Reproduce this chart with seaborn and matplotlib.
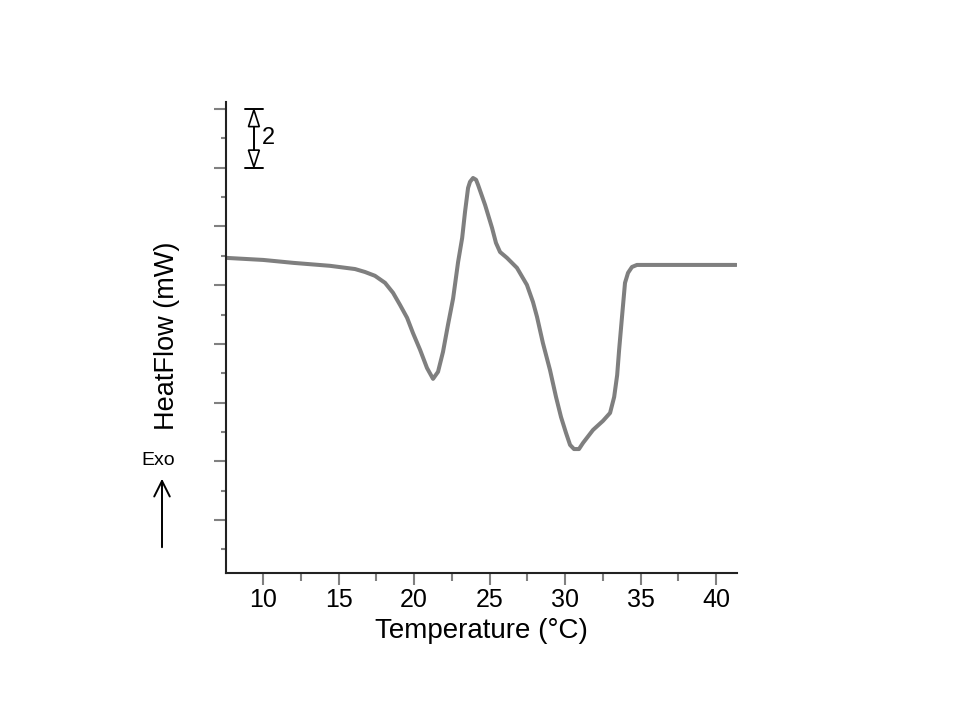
import numpy as np
import pandas as pd
import matplotlib
matplotlib.use('Agg')
import matplotlib.pyplot as plt
import seaborn as sns
from matplotlib.ticker import MultipleLocator

temperatura = [7.55, 10.0, 12.0, 14.42, 16.08, 16.74, 17.40, 18.07, 18.6, 19.06,
               19.53, 19.92, 20.39, 20.85, 21.25, 21.58, 21.91, 22.24, 22.58, 22.91,
               23.18, 23.37, 23.57, 23.7, 23.9, 24.1, 24.23, 24.7, 25.16, 25.42,
               25.69, 26.15, 26.81, 27.47, 27.87, 28.14, 28.53, 29.0, 29.4, 29.73,
               30.06, 30.33, 30.59, 30.92, 31.19, 31.85, 32.51, 32.98, 33.25, 33.45,
               33.58, 33.77, 33.97, 34.17, 34.43, 34.76, 35.62, 41.35]
flujo_calor = [2.93, 2.86, 2.76, 2.66, 2.55, 2.45, 2.32, 2.08, 1.74, 1.33,
               0.89, 0.37, -0.20, -0.82, -1.19, -0.95, -0.27, 0.65, 1.55, 2.79,
               3.61, 4.50, 5.31, 5.52, 5.65, 5.59, 5.42, 4.73, 3.95, 3.44,
               3.13, 2.93, 2.59, 2.01, 1.43, 0.92, 0.03, -0.89, -1.81, -2.49,
               -3.03, -3.44, -3.58, -3.58, -3.37, -2.93, -2.62, -2.35, -1.81, -1.06,
               -0.20, 0.92, 2.08, 2.42, 2.62, 2.69, 2.69, 2.69]
ticks_x = [10, 15, 20, 25, 30, 35, 40]
escala_mw = 2

df = pd.DataFrame({'Temperatura': temperatura, 'Flujo': flujo_calor})

sns.set_style('white')
plt.rcParams['font.family'] = ['Liberation Sans', 'DejaVu Sans']
plt.rcParams['text.color'] = 'black'
plt.rcParams['axes.labelcolor'] = 'black'

fig = plt.figure(figsize=(9.6, 7.2), dpi=100)
ax = fig.add_axes([0.2354, 0.2042, 0.5323, 0.6542])

sns.lineplot(data=df, x='Temperatura', y='Flujo', ax=ax, color='#7f7f7f',
             linewidth=2.9, sort=False)

ax.set_xlim(7.53, 41.39)
ax.set_ylim(-7.80, 8.24)

# ejes estilo DSC: solo izquierda y abajo
for lado in ['top', 'right']:
    ax.spines[lado].set_visible(False)
for lado in ['left', 'bottom']:
    ax.spines[lado].set_color('#222222')
    ax.spines[lado].set_linewidth(1.5)

ax.set_xticks(ticks_x)
ax.set_xticklabels([str(t) for t in ticks_x], fontsize=18)
ax.xaxis.set_minor_locator(MultipleLocator(2.5))
ax.yaxis.set_major_locator(MultipleLocator(2))
ax.yaxis.set_minor_locator(MultipleLocator(1))
ax.set_yticklabels([])
ax.tick_params(axis='both', which='both', direction='out', color='#808080', width=1.5,
               labelcolor='black')
ax.tick_params(axis='x', which='major', length=8.5, pad=2, bottom=True)
ax.tick_params(axis='x', which='minor', length=5.5, bottom=True)
ax.tick_params(axis='y', which='major', length=8.5, left=True)
ax.tick_params(axis='y', which='minor', length=3.6, left=True)

ax.set_xlabel('Temperature (°C)', fontsize=20)
ax.xaxis.set_label_coords(0.5, -0.095)
ax.set_ylabel('HeatFlow (mW)', fontsize=19.5)
ax.yaxis.set_label_coords(-0.09, 0.503)

# barra de escala (2 mW)
xb = 9.38
ax.plot([xb - 0.6, xb + 0.6], [8, 8], color='black', lw=1.4, clip_on=False)
ax.plot([xb - 0.6, xb + 0.6], [8 - escala_mw, 8 - escala_mw], color='black', lw=1.4, clip_on=False)
ax.plot([xb, xb], [7.4, 6.6], color='black', lw=1.4)
ax.fill([xb, xb - 0.36, xb + 0.36], [7.97, 7.4, 7.4], facecolor='white', edgecolor='black', lw=1.2)
ax.fill([xb, xb - 0.36, xb + 0.36], [6.03, 6.6, 6.6], facecolor='white', edgecolor='black', lw=1.2)
ax.text(xb + 0.5, 7.0, str(escala_mw), fontsize=17, ha='left', va='center')

# indicador Exo
fig.text(158 / 960, 1 - 461 / 720, 'Exo', fontsize=14, ha='center', va='center')
ax.annotate('', xy=(162 / 960, 1 - 476 / 720), xytext=(162 / 960, 1 - 550 / 720),
            xycoords='figure fraction', textcoords='figure fraction',
            arrowprops=dict(arrowstyle='->', color='black', lw=1.4,
                            mutation_scale=28))

fig.savefig('out.png', dpi=100)
